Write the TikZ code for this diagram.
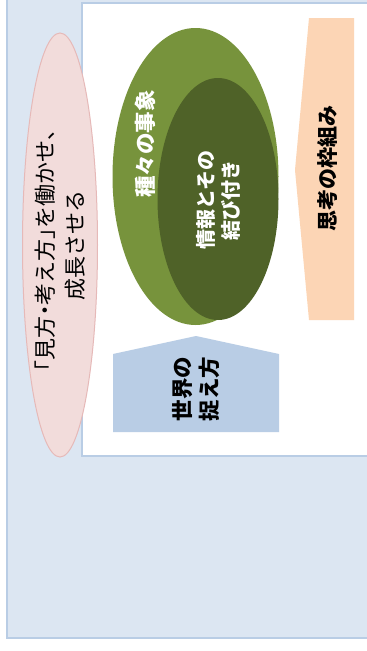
\documentclass[tikz,border=0pt]{standalone}
\usepackage{fontspec}
\newfontfamily\jp{Noto Sans CJK JP}
\newfontfamily\jph[RawFeature=+halt]{Noto Sans CJK JP}
\usetikzlibrary{shapes.geometric}
\definecolor{bgblue}{HTML}{DCE6F2}
\definecolor{edgeblue}{HTML}{B9CDE5}
\definecolor{pinkfill}{HTML}{F2DCDB}
\definecolor{pinkedge}{HTML}{E6B9B8}
\definecolor{greenA}{HTML}{77933C}
\definecolor{greenB}{HTML}{4F6228}
\definecolor{peach}{HTML}{FCD5B5}
\definecolor{boxblue}{HTML}{B9CDE5}
\tikzset{
  vtext/.style={rotate=90, align=center, inner sep=0pt, font=\jp\fontsize{22}{30}\selectfont},
  vbold/.style={vtext, font=\jp\bfseries\fontsize{21.5}{27}\selectfont},
}
\begin{document}
\begin{tikzpicture}[x=1pt,y=-1pt]
\useasboundingbox (0,0) rectangle (367,651);
\clip (0,0) rectangle (367,651);
% outer frame
\fill[white] (0,0) rectangle (367,651);
\draw[fill=bgblue, draw=edgeblue, line width=1.5pt] (7,-10) rectangle (380,638);
% inner white panel
\draw[fill=white, draw=edgeblue, line width=1.2pt] (82,3) rectangle (380,456);
% pink ellipse
\draw[fill=pinkfill, draw=pinkedge, line width=1pt] (60,245) ellipse [x radius=37.5pt, y radius=212pt];
% green ellipses
\fill[greenA] (195.5,176.5) ellipse [x radius=83pt, y radius=148.5pt];
\fill[greenB] (218,199) ellipse [x radius=60.5pt, y radius=121pt];
% peach pentagon
\fill[peach] (309,18) -- (354,18) -- (354,320) -- (309,320) -- (295,170) -- cycle;
% blue pentagon
\fill[boxblue] (196,336) -- (279,354) -- (279,432) -- (113,432) -- (113,354) -- cycle;
% texts
\node[vtext] (mikata) at (60,245) {{\jph「}見方{\jph・}考え方{\jph」}を働かせ、\\成長させる};
\node[vbold, text=white] (jisho) at (145,144) {種々の事象};
\node[vbold, text=white, font=\jp\bfseries\fontsize{20}{25}\selectfont] (joho) at (218,200) {情報とその\\結び付き};
\node[vbold, font=\jp\bfseries\fontsize{21}{27}\selectfont] (waku) at (328,168) {思考の枠組み};
\node[vbold, font=\jp\bfseries\fontsize{21.5}{27}\selectfont] (sekai) at (196,389) {世界の\\捉え方};
\end{tikzpicture}
\end{document}
